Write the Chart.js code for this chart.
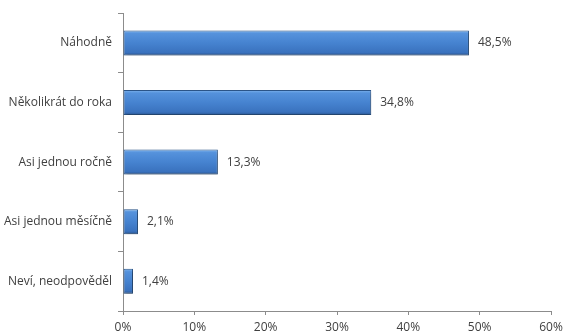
<!DOCTYPE html>
<html>
<head>
<meta charset="utf-8">
<script src="https://cdn.jsdelivr.net/npm/chart.js@4"></script>
<style>
  html, body { margin: 0; padding: 0; background: #fff; }
  #wrap { width: 575px; height: 336px; }
</style>
</head>
<body>
<div id="wrap"><canvas id="graf"></canvas></div>
<script>
// data
const kategorie = ['Náhodně', 'Několikrát do roka', 'Asi jednou ročně', 'Asi jednou měsíčně', 'Neví, neodpověděl'];
const hodnoty = [48.5, 34.8, 13.3, 2.1, 1.4];
const osaX = [0, 10, 20, 30, 40, 50, 60];

const font = { family: 'Open Sans', size: 12 };
const barvaTextu = '#404040';
const barvaOsy = '#8c8c8c';

function cislo(v) {
    return v.toFixed(1).replace('.', ',') + '%';
}

// gradient for each bar, top lighter, bottom darker (options are shared, so copy them)
const prechod = {
    id: 'prechod',
    beforeDatasetsDraw(chart) {
        const ctx = chart.ctx;
        chart.getDatasetMeta(0).data.forEach(bar => {
            const top = bar.y - bar.height / 2;
            const g = ctx.createLinearGradient(0, top, 0, top + bar.height);
            g.addColorStop(0, '#80b6ef');
            g.addColorStop(0.12, '#5592dc');
            g.addColorStop(0.5, '#4683d0');
            g.addColorStop(0.88, '#3a72be');
            g.addColorStop(1, '#2a5590');
            bar.options = Object.assign({}, bar.options, { backgroundColor: g });
        });
        ctx.save();
        ctx.shadowColor = 'rgba(0,0,0,0.3)';
        ctx.shadowBlur = 3;
        ctx.shadowOffsetX = 1;
        ctx.shadowOffsetY = 2;
    },
    afterDatasetsDraw(chart) {
        chart.ctx.restore();
    }
};

// value labels to the right of the bars
const popisky = {
    id: 'popisky',
    afterDatasetsDraw(chart) {
        const ctx = chart.ctx;
        ctx.save();
        ctx.font = font.size + 'px ' + font.family;
        ctx.fillStyle = barvaTextu;
        ctx.textBaseline = 'middle';
        chart.getDatasetMeta(0).data.forEach((bar, i) => {
            ctx.fillText(cislo(hodnoty[i]), bar.x + 9, bar.y);
        });
        ctx.restore();
    }
};

new Chart(document.getElementById('graf'), {
    type: 'bar',
    data: {
        labels: kategorie,
        datasets: [{
            data: hodnoty,
            backgroundColor: '#4683d0',
            borderColor: '#2b5589',
            borderWidth: 1,
            borderSkipped: false,
            categoryPercentage: 1,
            barPercentage: 0.42
        }]
    },
    options: {
        indexAxis: 'y',
        responsive: true,
        maintainAspectRatio: false,
        animation: false,
        events: [],
        layout: { padding: { top: 8, right: 24, left: 0, bottom: 0 } },
        plugins: { legend: { display: false }, tooltip: { enabled: false } },
        scales: {
            x: {
                min: 0,
                max: 60,
                afterBuildTicks(scale) { scale.ticks = osaX.map(v => ({ value: v })); },
                afterFit(scale) { scale.height = 25; },
                grid: { drawOnChartArea: false, tickLength: 4, color: barvaOsy },
                border: { color: barvaOsy },
                ticks: { font: font, color: barvaTextu, padding: 5, callback: v => v + '%' }
            },
            y: {
                afterFit(scale) { scale.width = 123; },
                grid: { drawOnChartArea: false, tickLength: 5, color: barvaOsy },
                border: { color: barvaOsy },
                ticks: { font: font, color: barvaTextu, padding: 6 }
            }
        }
    },
    plugins: [prechod, popisky]
});
</script>
</body>
</html>
